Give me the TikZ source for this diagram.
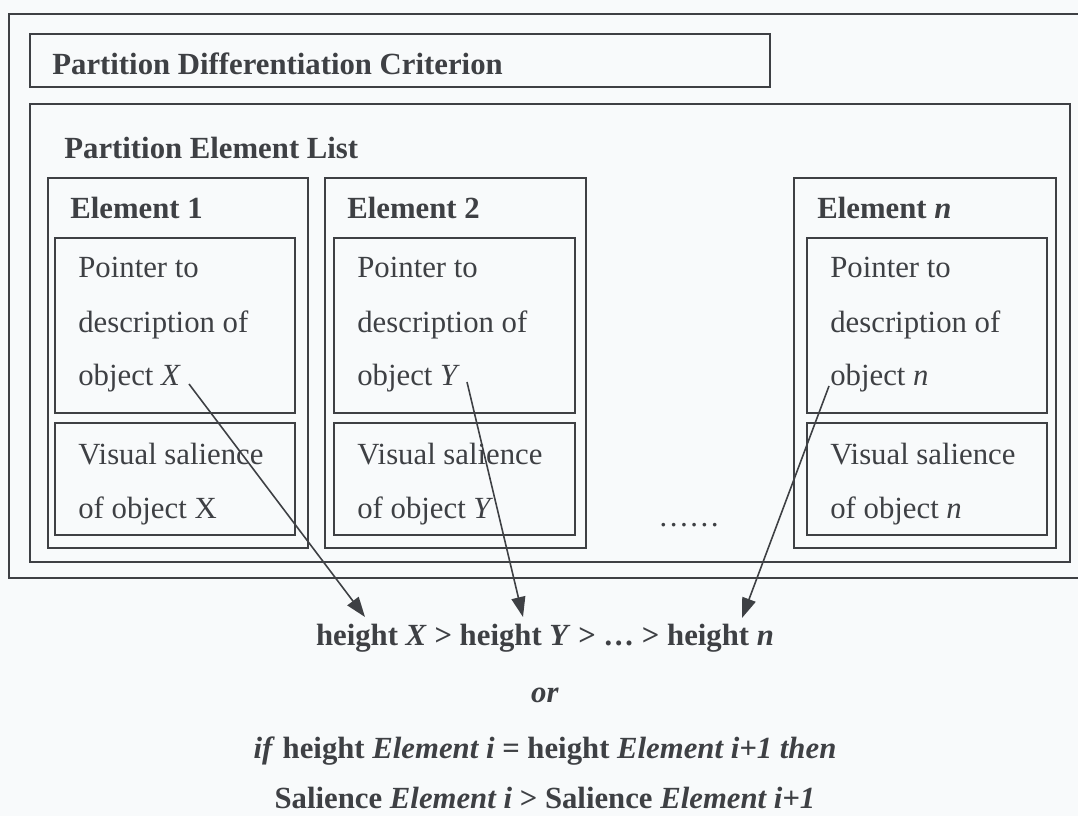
\documentclass[tikz,border=0pt]{standalone}
\usepackage{fontspec}
\setmainfont{Liberation Serif}
\usetikzlibrary{arrows.meta}
\definecolor{ink}{RGB}{62,64,68}
\definecolor{paper}{RGB}{248,250,251}
\tikzset{
  frame/.style={draw=ink, line width=1.1pt, rectangle, inner sep=0pt},
  lbl/.style={anchor=base west, inner sep=0pt, text=ink, font=\fontsize{17.5}{21}\selectfont},
  hlbl/.style={lbl, font=\fontsize{17.5}{21}\selectfont\bfseries},
  rule/.style={anchor=base, inner sep=0pt, text=ink, font=\fontsize{17.5}{21}\selectfont\bfseries},
  ptr/.style={draw=ink, line width=0.9pt, -{Triangle[length=0.4cm, width=0.28cm]}}
}

\begin{document}
\begin{tikzpicture}[x=1cm,y=1cm]
\fill[paper] (0,0) rectangle (21.56,-16.32);
\useasboundingbox (0,0) rectangle (21.56,-16.32);
\clip (0,0) rectangle (21.56,-16.32);

% frames
\node[frame, minimum width=21.82cm, minimum height=11.28cm] (outer) at (11.09,-5.92) {};
\node[frame, minimum width=14.8cm, minimum height=1.06cm] (crit) at (8.0,-1.21) {};
\node[frame, minimum width=20.8cm, minimum height=9.16cm] (list) at (11.0,-6.66) {};
\node[hlbl] (critlbl) at (1.04,-1.50) {Partition Differentiation Criterion};
\node[hlbl] (listlbl) at (1.28,-3.18) {Partition Element List};

% element 1
\node[frame, minimum width=5.2cm, minimum height=7.4cm] (e1) at (3.56,-7.26) {};
\node[frame, minimum width=4.8cm, minimum height=3.5cm] (p1) at (3.50,-6.51) {};
\node[frame, minimum width=4.8cm, minimum height=2.24cm] (s1) at (3.50,-9.58) {};
\node[hlbl] (e1lbl) at (1.40,-4.38) {Element 1};
\node[lbl] (p1a) at (1.56,-5.56) {Pointer to};
\node[lbl] (p1b) at (1.56,-6.66) {description of};
\node[lbl] (p1c) at (1.56,-7.72) {object \textit{X}};
\node[lbl] (s1a) at (1.56,-9.30) {Visual salience};
\node[lbl] (s1b) at (1.56,-10.38) {of object X};

% element 2
\node[frame, minimum width=5.22cm, minimum height=7.4cm] (e2) at (9.11,-7.26) {};
\node[frame, minimum width=4.82cm, minimum height=3.5cm] (p2) at (9.09,-6.51) {};
\node[frame, minimum width=4.82cm, minimum height=2.24cm] (s2) at (9.09,-9.58) {};
\node[hlbl] (e2lbl) at (6.94,-4.38) {Element 2};
\node[lbl] (p2a) at (7.14,-5.56) {Pointer to};
\node[lbl] (p2b) at (7.14,-6.66) {description of};
\node[lbl] (p2c) at (7.14,-7.72) {object \textit{Y}};
\node[lbl] (s2a) at (7.14,-9.30) {Visual salience};
\node[lbl] (s2b) at (7.14,-10.38) {of object \textit{Y}};

% element n
\node[frame, minimum width=5.24cm, minimum height=7.4cm] (en) at (18.50,-7.26) {};
\node[frame, minimum width=4.8cm, minimum height=3.5cm] (pn) at (18.54,-6.51) {};
\node[frame, minimum width=4.8cm, minimum height=2.24cm] (sn) at (18.54,-9.58) {};
\node[hlbl] (enlbl) at (16.34,-4.38) {Element \textit{n}};
\node[lbl] (pna) at (16.60,-5.56) {Pointer to};
\node[lbl] (pnb) at (16.60,-6.66) {description of};
\node[lbl] (pnc) at (16.60,-7.72) {object \textit{n}};
\node[lbl] (sna) at (16.60,-9.30) {Visual salience};
\node[lbl] (snb) at (16.60,-10.38) {of object \textit{n}};

\node[lbl] (dots) at (13.16,-10.54) {……};

% ordering rule
\node[rule] (order) at (10.9,-12.90) {height \textit{X} > height \textit{Y} > … > height \textit{n}};
\node[rule] (alt) at (10.9,-14.04) {\textit{or}};
\node[rule] (cond) at (10.9,-15.16) {\textit{if} height \textit{Element i} = height \textit{Element i+1 then}};
\node[rule] (sal) at (10.9,-16.16) {Salience \textit{Element i} > Salience \textit{Element i+1}};

% pointers
\coordinate (fromX) at (3.78,-7.68);
\coordinate (fromY) at (9.34,-7.64);
\coordinate (fromN) at (16.58,-7.72);
\coordinate (toX) at (7.30,-12.34);
\coordinate (toY) at (10.46,-12.34);
\coordinate (toN) at (14.84,-12.36);
\draw[ptr] (fromX) -- (toX);
\draw[ptr] (fromY) -- (toY);
\draw[ptr] (fromN) -- (toN);
\end{tikzpicture}
\end{document}
